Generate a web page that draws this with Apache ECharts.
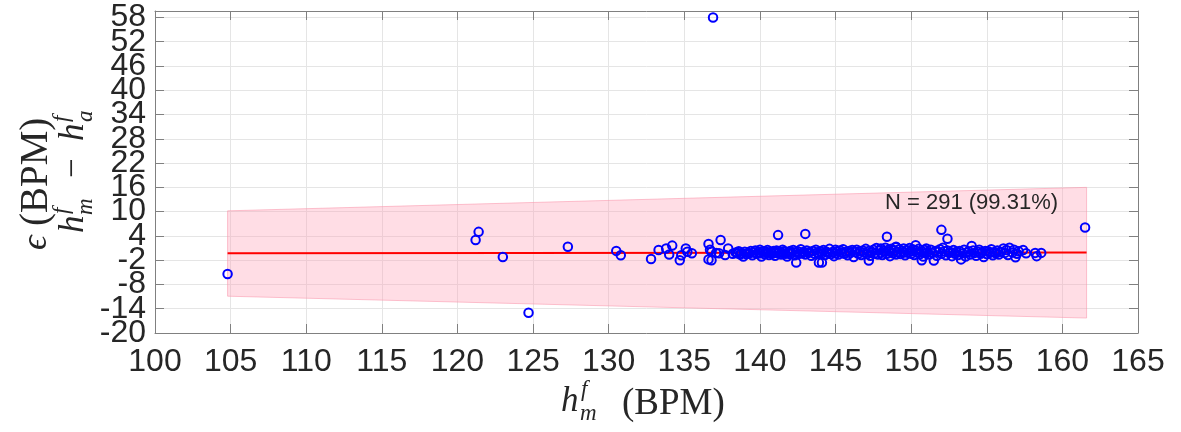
<!DOCTYPE html>
<html><head><meta charset="utf-8">
<script src="https://cdn.jsdelivr.net/npm/echarts@6/dist/echarts.min.js"></script>
<style>html,body{margin:0;padding:0;background:#fff}#c{width:1181px;height:432px}</style>
</head><body><div id="c"></div>
<script>
// ---- data ----
const xMin = 100, xMax = 165, xStep = 5;
const yMin = -20, yMax = 59.6, yStep = 6;

// isolated / edge points (h_m^f, error)
const hfSparse = [104.8,121.2,121.4,123.0,124.7,127.3,130.5,130.8,132.8,133.3,133.8,134.0,134.2,134.7,134.8,135.1,135.2,135.5,136.6,136.7,136.6,136.8,136.8,136.9,137.1,137.4,137.3,137.7,137.9,138.5,141.2,142.4,143.0,143.9,144.1,147.2,148.4,149.0,150.3,150.7,151.5,152.0,152.4,152.1,153.3,154.0,156.1,156.5,156.9,157.4,158.2,158.3,158.6,161.5];
const errSparse = [-5.4,3.0,5.0,-1.2,-15.0,1.3,0.3,-0.8,-1.7,0.5,0.9,-0.6,1.6,-2.0,-0.8,0.9,0.1,-0.3,2.0,0.6,-1.8,-2.0,0.1,58.0,-0.2,3.0,-0.3,-0.7,0.9,-0.2,4.2,-2.6,4.5,-2.6,-2.6,-2.1,3.8,1.3,1.7,-2.0,-2.1,5.5,3.3,1.1,-1.8,1.5,0.9,1.1,-1.3,0.5,-0.2,-1.0,-0.2,6.1];

// dense cluster
const hfCluster = [138.2,138.4,138.5,138.6,138.7,138.8,138.9,139.0,139.1,139.2,139.3,139.4,139.5,139.6,139.7,139.8,139.9,140.0,140.0,140.1,140.2,
140.3,140.4,140.5,140.5,140.6,140.7,140.8,140.9,141.0,141.0,141.1,141.2,141.3,141.4,141.5,141.5,141.6,141.7,141.8,141.9,142.0,142.0,142.1,142.2,142.3,142.4,142.5,142.6,142.7,142.8,142.9,143.0,143.1,143.2,143.3,143.4,143.5,143.6,143.7,143.8,143.9,144.0,
144.1,144.2,144.3,144.4,144.5,144.6,144.7,144.8,144.9,145.0,145.0,145.1,145.2,145.3,145.4,145.5,145.6,145.7,145.8,145.9,146.0,146.1,146.2,146.3,146.4,146.5,146.6,146.7,146.8,146.9,147.0,147.1,147.2,147.3,147.4,147.5,147.6,147.7,147.8,147.9,148.0,148.0,
148.1,148.2,148.3,148.4,148.5,148.6,148.6,148.7,148.8,148.9,149.0,149.0,149.1,149.2,149.3,149.4,149.5,149.5,149.6,149.7,149.8,149.9,150.0,150.0,150.1,150.2,150.3,150.4,150.5,150.6,150.7,150.8,150.9,151.0,151.0,151.1,151.2,151.3,151.4,151.6,151.7,151.8,151.9,152.0,
152.2,152.3,152.4,152.5,152.6,152.7,152.8,152.9,153.0,153.1,153.2,153.4,153.5,153.6,153.7,153.8,153.9,154.1,154.2,154.3,154.4,154.5,154.6,154.7,154.8,154.9,155.0,155.1,155.2,155.3,155.4,155.5,155.6,155.7,155.8,155.9,
156.2,156.3,156.4,156.7,156.8,157.0,157.1,157.6];
const errCluster = [-0.4,-0.1,-0.3,0.2,-0.6,-0.2,-1.1,0.1,-0.5,-0.2,-0.3,0.3,-0.8,-0.1,0.4,-0.4,0.0,0.6,-0.3,-1.1,0.2,
-0.5,0.1,-0.2,0.5,-0.7,0.0,-0.4,0.3,-0.1,-0.9,0.4,-0.3,0.1,-0.6,0.6,-0.2,0.2,-0.4,-1.1,0.0,-0.5,0.3,-0.2,0.5,-0.8,-0.1,0.2,-0.4,0.7,-0.3,0.1,-0.6,0.4,-0.2,0.0,-0.9,0.3,-0.4,0.6,-0.1,-0.5,0.2,
-0.3,0.5,-0.7,0.1,-0.2,0.8,-0.5,0.0,-1.0,0.6,-0.3,0.2,-0.6,0.4,-0.1,0.7,-0.4,0.1,-0.8,0.3,-0.2,0.5,-1.2,0.0,0.6,-0.4,0.2,-0.7,0.4,-0.1,0.8,-0.5,0.3,-0.9,0.1,0.6,-0.3,1.0,-0.6,0.4,-0.2,0.9,
-0.7,0.3,1.1,-0.4,0.6,-1.0,0.1,0.8,-0.3,0.4,-0.6,1.2,0.0,0.7,-0.5,0.3,-0.1,0.9,-0.8,0.5,-0.2,1.0,-0.4,0.2,0.7,-0.7,0.4,-0.1,0.8,-0.5,0.2,-1.1,0.5,-0.3,0.9,0.0,-0.6,0.6,-0.2,0.3,-0.9,0.1,0.7,-0.4,
0.2,-0.8,0.4,-0.2,0.0,-1.0,0.5,-0.4,0.1,-0.7,0.3,-0.3,0.6,-1.1,-0.1,0.2,-0.6,0.4,-0.2,-0.9,0.1,0.6,-0.4,0.0,-1.2,0.3,-0.5,0.2,-0.2,0.7,-0.8,0.0,-0.3,0.4,-0.6,0.1,
-0.2,0.5,-0.7,-0.1,0.6,-0.4,0.2,-0.3];

// limits of agreement band and mean line
const bandX = [104.8, 161.6];
const bandUpper = [10.2, 16.0];
const bandLower = [-10.9, -16.3];
const meanErr = [-0.3, -0.1];
const annotationText = 'N = 291 (99.31%)';

// ---- chart ----
const sans = '"Liberation Sans", Arial, Helvetica, sans-serif';
const serif = '"Liberation Serif", "DejaVu Serif", "Times New Roman", serif';
const axisGray = '#808080';
const labelColor = '#262626';

const points = hfSparse.map((x, i) => [x, errSparse[i]])
  .concat(hfCluster.map((x, i) => [x, errCluster[i]]));

const chart = echarts.init(document.getElementById('c'), null, {renderer: 'canvas'});

const baseAxis = {
  axisLine: {show: true, onZero: false, lineStyle: {color: axisGray, width: 1}},
  axisTick: {show: true, inside: true, length: 9, lineStyle: {color: axisGray, width: 1}},
};
const yLabelStyle = {fontSize: 32, lineHeight: 20, fontFamily: sans, color: labelColor, margin: 9, hideOverlap: false};

function txt(x, y, text, font, align) {
  return {type: 'text', x: x, y: y, silent: true, z: 100,
    style: {text: text, font: font, fill: labelColor, textAlign: align || 'left', textVerticalAlign: 'middle', align: align || 'left', verticalAlign: 'middle'}};
}

chart.setOption({
  animation: false,
  backgroundColor: '#fff',
  grid: {left: 155, right: 43, top: 11, bottom: 99, containLabel: false},
  xAxis: [
    Object.assign({}, baseAxis, {type: 'value', position: 'bottom', min: xMin, max: xMax, interval: xStep,
      axisLabel: {fontSize: 32, lineHeight: 32, fontFamily: sans, color: labelColor, margin: 13, hideOverlap: false},
      splitLine: {show: true, lineStyle: {color: '#e5e5e5', width: 1}}}),
    Object.assign({}, baseAxis, {type: 'value', position: 'top', min: xMin, max: xMax, interval: xStep,
      axisLabel: {show: false}, splitLine: {show: false}})
  ],
  yAxis: [
    Object.assign({}, baseAxis, {type: 'value', position: 'left', min: yMin, max: yMax, interval: yStep,
      axisLabel: Object.assign({}, yLabelStyle, {showMaxLabel: false, showMinLabel: false}),
      splitLine: {show: true, lineStyle: {color: '#e5e5e5', width: 1}}}),
    Object.assign({}, baseAxis, {type: 'value', position: 'right', min: yMin, max: yMax, interval: yStep,
      axisLabel: {show: false}, splitLine: {show: false}}),
    // carries only the bottom tick label (-20)
    {type: 'value', position: 'left', min: yMin, max: yMax, interval: yMax - yMin,
      axisLine: {show: false}, axisTick: {show: false}, splitLine: {show: false},
      axisLabel: Object.assign({}, yLabelStyle, {showMaxLabel: false, showMinLabel: true})}
  ],
  series: [
    {
      type: 'custom', xAxisIndex: 0, yAxisIndex: 0, silent: true, z: 1,
      data: [[bandX[0], bandUpper[0]]],
      renderItem: function (params, api) {
        const pts = [
          api.coord([bandX[0], bandUpper[0]]),
          api.coord([bandX[1], bandUpper[1]]),
          api.coord([bandX[1], bandLower[1]]),
          api.coord([bandX[0], bandLower[0]])
        ];
        return {type: 'polygon', shape: {points: pts},
          style: {fill: 'rgba(255,160,182,0.36)', stroke: 'rgba(250,150,172,0.55)', lineWidth: 1}};
      }
    },
    {
      type: 'line', xAxisIndex: 0, yAxisIndex: 0, silent: true, z: 2,
      data: [[bandX[0], meanErr[0]], [bandX[1], meanErr[1]]],
      symbol: 'none', lineStyle: {color: '#ff0000', width: 2}
    },
    {
      type: 'scatter', xAxisIndex: 0, yAxisIndex: 0, silent: true, z: 3,
      data: points, symbol: 'circle', symbolSize: 8.5,
      itemStyle: {color: 'rgba(0,0,0,0)', borderColor: '#0000ff', borderWidth: 2, opacity: 1}
    }
  ],
  graphic: [
    txt(885, 203, annotationText, '22px ' + sans),
    // x-axis title: h_m^f (BPM)
    txt(561, 402, 'h', 'italic 35px ' + serif),
    txt(581, 390, 'f', 'italic 23px ' + serif),
    txt(580, 414, 'm', 'italic 23px ' + serif),
    txt(622, 404, '(BPM)', '37px ' + serif),
    // y-axis title line 1: ϵ (BPM)
    {type: 'group', x: 37, y: 172, rotation: Math.PI / 2, z: 100, children: [
      txt(-78, 0, '\u03f5', 'italic 36px ' + serif),
      txt(-54, 0, '(BPM)', '39px ' + serif)
    ]},
    // y-axis title line 2: h_m^f - h_a^f
    {type: 'group', x: 74, y: 163, rotation: Math.PI / 2, z: 100, children: [
      txt(-70, 0, 'h', 'italic 35px ' + serif),
      txt(-51, -12, 'f', 'italic 23px ' + serif),
      txt(-52, 12, 'm', 'italic 23px ' + serif),
      txt(-15, 0, '\u2212', '35px ' + serif),
      txt(22, 0, 'h', 'italic 35px ' + serif),
      txt(41, -12, 'f', 'italic 23px ' + serif),
      txt(41, 12, 'a', 'italic 23px ' + serif)
    ]}
  ]
});
</script></body></html>
